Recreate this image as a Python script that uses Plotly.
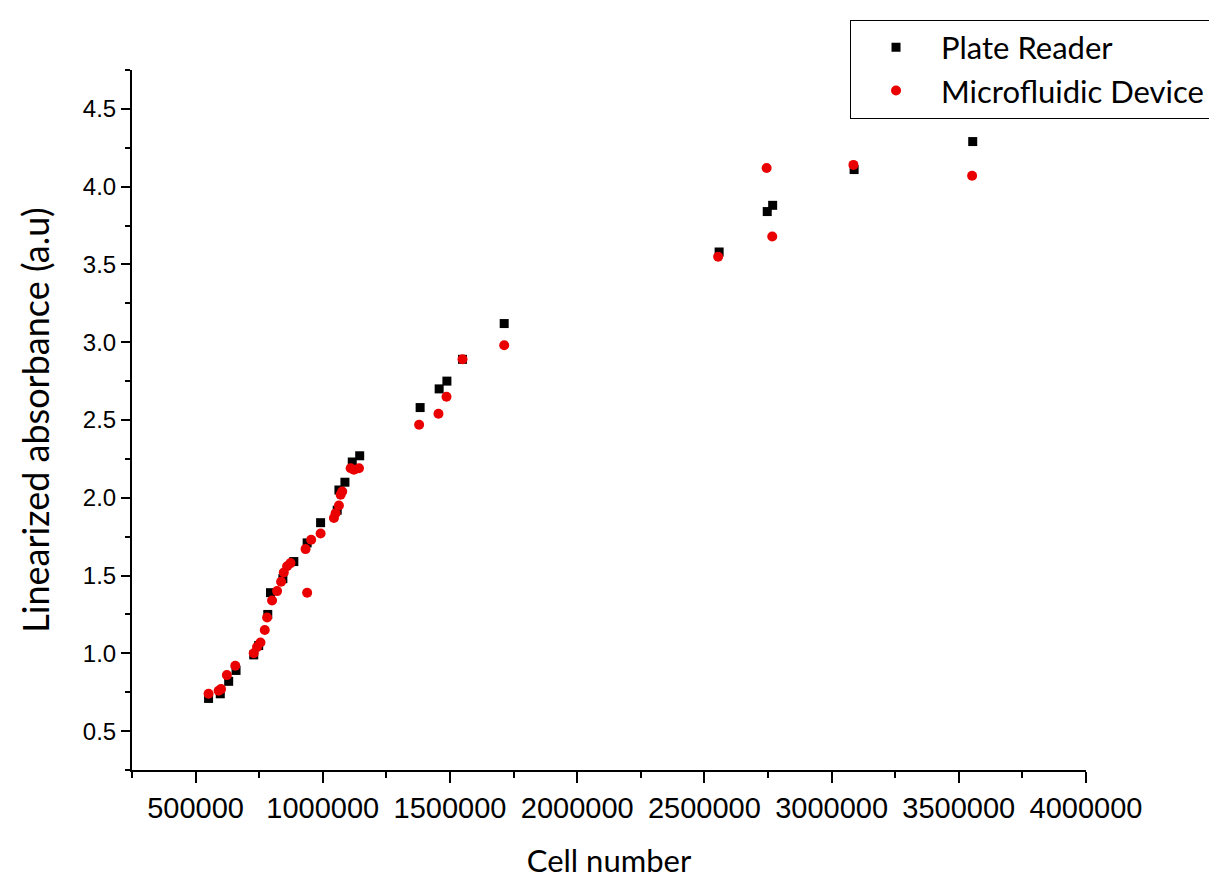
import plotly.graph_objects as go

# Plate Reader (black squares)
plate_x = [551000, 597000, 630000, 659000, 728500, 748000, 783700, 794300,
           843000, 886100, 938500, 991300, 1056700, 1063400, 1087000,
           1115800, 1145000, 1382600, 1457400, 1487800, 1549200, 1713000,
           2557900, 2747000, 2768300, 3088500, 3554700]
plate_y = [0.71, 0.74, 0.82, 0.89, 0.99, 1.05, 1.25, 1.39,
           1.48, 1.59, 1.71, 1.84, 1.92, 2.05, 2.10,
           2.23, 2.27, 2.58, 2.70, 2.75, 2.89, 3.12,
           3.58, 3.84, 3.88, 4.11, 4.29]

# Microfluidic Device (red circles)
micro_x = [551000, 590600, 600000, 623000, 656000, 728500, 741500, 755000,
           771900, 781000, 800600, 820300, 836100, 846700, 859700, 873100,
           938500, 932200, 954300, 991300, 1043700, 1050300, 1063400,
           1070100, 1076400, 1109500, 1122500, 1142200, 1378600, 1454700,
           1486200, 1549200, 1713000, 2554000, 2744600, 2766700, 3085800,
           3552300]
micro_y = [0.74, 0.76, 0.77, 0.86, 0.92, 1.00, 1.04, 1.07,
           1.15, 1.23, 1.34, 1.40, 1.46, 1.52, 1.56, 1.58,
           1.39, 1.67, 1.73, 1.77, 1.87, 1.90, 1.95,
           2.02, 2.04, 2.19, 2.18, 2.19, 2.47, 2.54,
           2.65, 2.89, 2.98, 3.55, 4.12, 3.68, 4.14,
           4.07]

x_ticks = [500000, 1000000, 1500000, 2000000, 2500000, 3000000, 3500000, 4000000]
y_ticks = [0.5, 1.0, 1.5, 2.0, 2.5, 3.0, 3.5, 4.0, 4.5]

fig = go.Figure()
fig.add_trace(go.Scatter(x=plate_x, y=plate_y, mode="markers", name="Plate Reader",
                         legendgroup="a",
                         marker=dict(symbol="square", size=9, color="black")))
fig.add_trace(go.Scatter(x=micro_x, y=micro_y, mode="markers", name="Microfluidic Device",
                         legendgroup="b",
                         marker=dict(symbol="circle", size=10, color="#ea0000")))

tickfont_y = dict(family="Liberation Sans, Arial", size=24, color="black")
tickfont_x = dict(family="Liberation Sans Narrow, Liberation Sans, Arial", size=29, color="black")

fig.update_layout(
    width=1217, height=887,
    margin=dict(l=124, r=139, t=62, b=125),
    paper_bgcolor="white", plot_bgcolor="white",
    showlegend=True,
    legend=dict(x=1.13, y=1.072, xanchor="right", yanchor="top",
                bordercolor="black", borderwidth=1, bgcolor="white",
                font=dict(family="Lato, Open Sans", size=31, color="black"),
                tracegroupgap=0, itemwidth=80),
    xaxis=dict(range=[250000, 4000000], tickvals=x_ticks,
               ticktext=[str(v) for v in x_ticks],
               showline=True, linecolor="black", linewidth=2,
               ticks="outside", ticklen=11, tickwidth=2, tickcolor="black",
               minor=dict(ticks="outside", ticklen=6, tickwidth=2, tickcolor="black",
                          dtick=250000, tick0=0),
               showgrid=False, zeroline=False, tickfont=tickfont_x,
               title=dict(text="Cell number",
                          font=dict(family="Lato, Open Sans", size=31, color="black"),
                          standoff=28)),
    yaxis=dict(range=[0.25, 4.75], tickvals=y_ticks,
               ticktext=[f"{v:.1f}" for v in y_ticks],
               showline=True, linecolor="black", linewidth=2,
               ticks="outside", ticklen=9, tickwidth=2, tickcolor="black",
               minor=dict(ticks="outside", ticklen=5, tickwidth=2, tickcolor="black",
                          dtick=0.25, tick0=0),
               showgrid=False, zeroline=False, tickfont=tickfont_y,
               title=dict(text="Linearized absorbance (a.u)",
                          font=dict(family="Lato, Open Sans", size=36, color="black"),
                          standoff=22)),
)

fig.write_html("out.html")
